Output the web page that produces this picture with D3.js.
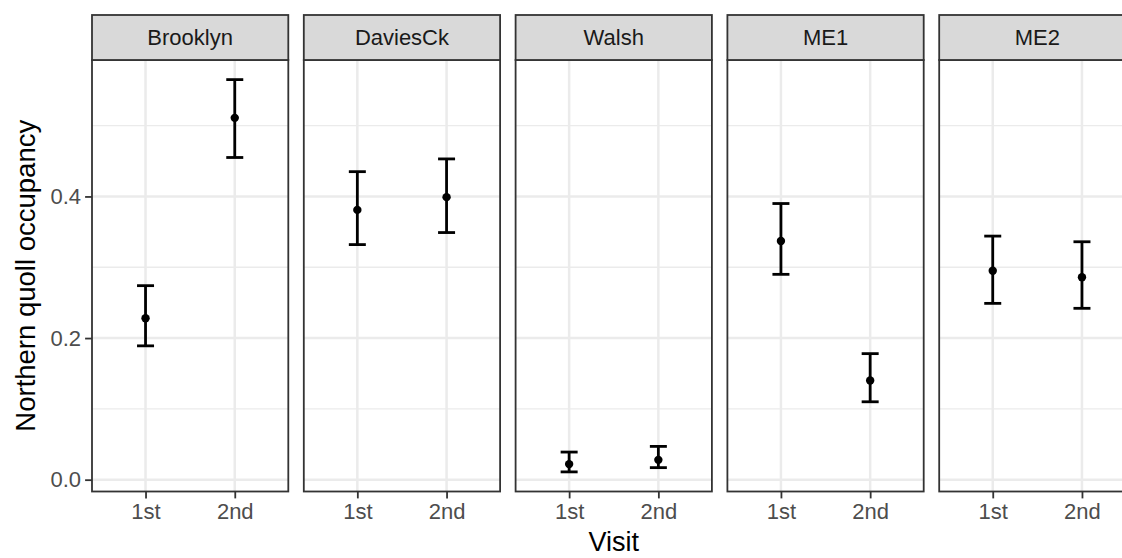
<!DOCTYPE html>
<html>
<head>
<meta charset="utf-8">
<script src="https://cdn.jsdelivr.net/npm/d3@7"></script>
<style>
  html, body { margin: 0; padding: 0; background: #fff; }
  svg { display: block; font-family: "Liberation Sans", Arial, sans-serif; }
</style>
</head>
<body>
<svg id="chart" width="1122" height="558"></svg>
<script>
// Occupancy estimates per site and visit, with confidence limits
const sites = ["Brooklyn", "DaviesCk", "Walsh", "ME1", "ME2"];
const visits = ["1st", "2nd"];
const est1st   = [0.228, 0.381, 0.022, 0.337, 0.295];
const lower1st = [0.189, 0.332, 0.011, 0.290, 0.249];
const upper1st = [0.274, 0.435, 0.039, 0.390, 0.344];
const est2nd   = [0.511, 0.399, 0.028, 0.140, 0.286];
const lower2nd = [0.455, 0.349, 0.017, 0.110, 0.242];
const upper2nd = [0.565, 0.453, 0.047, 0.178, 0.336];
const yMajorTicks = [0, 0.2, 0.4];
const yMinorTicks = [0.1, 0.3, 0.5];
const yTickLabels = ["0.0", "0.2", "0.4"];

const rows = [];
sites.forEach((s, i) => {
  rows.push({ site: s, visit: visits[0], est: est1st[i], lo: lower1st[i], hi: upper1st[i] });
  rows.push({ site: s, visit: visits[1], est: est2nd[i], lo: lower2nd[i], hi: upper2nd[i] });
});

const svg = d3.select("#chart");

// facet geometry
const left = 92, panelW = 196.3, gap = 15.5;
const stripTop = 15, stripH = 45;
const panelTop = stripTop + stripH, panelBottom = 491.5;

// y scale with 5% expansion of the data range
const yMin = d3.min(rows, d => d.lo), yMax = d3.max(rows, d => d.hi);
const pad = (yMax - yMin) * 0.05;
const y = d3.scaleLinear().domain([yMin - pad, yMax + pad]).range([panelBottom, panelTop]);

// discrete x scale with 0.6 unit expansion on each side
const xPos = d3.scalePoint().domain(visits).range([0.6 / 2.2 * panelW, 1.6 / 2.2 * panelW]);

const facet = d3.scaleBand().domain(sites)
  .range([left, left + sites.length * panelW + (sites.length - 1) * gap])
  .paddingInner(gap / (panelW + gap));

sites.forEach(site => {
  const g = svg.append("g").attr("transform", `translate(${facet(site)},0)`);
  const w = facet.bandwidth();

  // minor gridlines
  g.selectAll("line.minor").data(yMinorTicks).join("line")
    .attr("x1", 0).attr("x2", w)
    .attr("y1", d => y(d)).attr("y2", d => y(d))
    .attr("stroke", "#EBEBEB").attr("stroke-width", 1.3);
  // major gridlines
  g.selectAll("line.majorY").data(yMajorTicks).join("line")
    .attr("x1", 0).attr("x2", w)
    .attr("y1", d => y(d)).attr("y2", d => y(d))
    .attr("stroke", "#EBEBEB").attr("stroke-width", 2.5);
  g.selectAll("line.majorX").data(visits).join("line")
    .attr("x1", d => xPos(d)).attr("x2", d => xPos(d))
    .attr("y1", panelTop).attr("y2", panelBottom)
    .attr("stroke", "#EBEBEB").attr("stroke-width", 2.5);

  // error bars and points
  const data = rows.filter(r => r.site === site);
  const capHalf = 8.5;
  const eb = g.selectAll("g.eb").data(data).join("g");
  eb.append("line")
    .attr("x1", d => xPos(d.visit)).attr("x2", d => xPos(d.visit))
    .attr("y1", d => y(d.lo)).attr("y2", d => y(d.hi))
    .attr("stroke", "#000").attr("stroke-width", 2.8);
  eb.append("line")
    .attr("x1", d => xPos(d.visit) - capHalf).attr("x2", d => xPos(d.visit) + capHalf)
    .attr("y1", d => y(d.lo)).attr("y2", d => y(d.lo))
    .attr("stroke", "#000").attr("stroke-width", 2.8);
  eb.append("line")
    .attr("x1", d => xPos(d.visit) - capHalf).attr("x2", d => xPos(d.visit) + capHalf)
    .attr("y1", d => y(d.hi)).attr("y2", d => y(d.hi))
    .attr("stroke", "#000").attr("stroke-width", 2.8);
  eb.append("circle")
    .attr("cx", d => xPos(d.visit)).attr("cy", d => y(d.est))
    .attr("r", 4.2).attr("fill", "#000");

  // panel border
  g.append("rect").attr("x", 0).attr("y", panelTop).attr("width", w).attr("height", panelBottom - panelTop)
    .attr("fill", "none").attr("stroke", "#333333").attr("stroke-width", 1.8);

  // strip
  g.append("rect").attr("x", 0).attr("y", stripTop).attr("width", w).attr("height", stripH)
    .attr("fill", "#D9D9D9").attr("stroke", "#333333").attr("stroke-width", 1.8);
  g.append("text").attr("x", w / 2).attr("y", stripTop + stripH / 2)
    .attr("text-anchor", "middle").attr("dominant-baseline", "central")
    .attr("font-size", 22).attr("fill", "#1A1A1A").text(site);

  // x axis ticks and labels
  const xa = g.append("g").attr("transform", `translate(0,${panelBottom})`)
    .call(d3.axisBottom(xPos).tickSize(6.9).tickPadding(5));
  xa.select(".domain").remove();
  xa.selectAll(".tick line").attr("stroke", "#333333").attr("stroke-width", 1.8);
  xa.selectAll(".tick text").attr("font-size", 22).attr("fill", "#4D4D4D")
    .attr("font-family", "Liberation Sans, Arial, sans-serif");
});

// y axis on the first panel
const ya = svg.append("g").attr("transform", `translate(${left},0)`)
  .call(d3.axisLeft(y).tickValues(yMajorTicks).tickFormat((d, i) => yTickLabels[i]).tickSize(6.9).tickPadding(4));
ya.select(".domain").remove();
ya.selectAll(".tick line").attr("stroke", "#333333").attr("stroke-width", 1.8);
ya.selectAll(".tick text").attr("font-size", 22).attr("fill", "#4D4D4D")
  .attr("font-family", "Liberation Sans, Arial, sans-serif");

// axis titles
const fullRight = left + sites.length * panelW + (sites.length - 1) * gap;
svg.append("text").attr("x", (left + fullRight) / 2).attr("y", 551)
  .attr("text-anchor", "middle").attr("font-size", 27).attr("fill", "#000").text("Visit");
svg.append("text")
  .attr("transform", `translate(35,${(panelTop + panelBottom) / 2}) rotate(-90)`)
  .attr("text-anchor", "middle").attr("font-size", 27.5).attr("fill", "#000")
  .text("Northern quoll occupancy");
</script>
</body>
</html>
